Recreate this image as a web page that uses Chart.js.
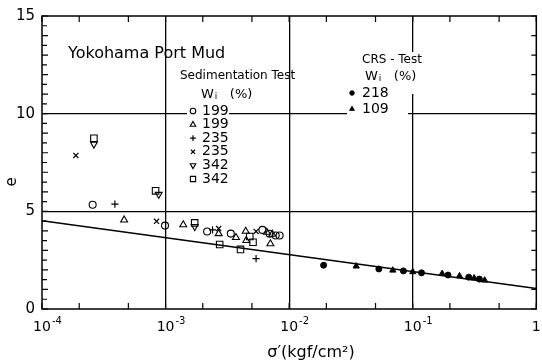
<!DOCTYPE html>
<html>
<head>
<meta charset="utf-8">
<script src="https://cdn.jsdelivr.net/npm/chart.js@4.4.1/dist/chart.umd.min.js"></script>
<style>
  html, body { margin: 0; padding: 0; background: #fff; }
  #wrap { width: 542px; height: 363px; }
</style>
</head>
<body>
<div id="wrap"><canvas id="c" width="542" height="363"></canvas></div>
<script>
// ---- Data: effective stress sigma' (kgf/cm2) and void ratio e ----

// Sedimentation test, wl = 199 %, open circles
const sedCircle199X = [2.57e-4, 9.9e-4, 2.17e-3, 3.37e-3, 6.08e-3, 6.95e-3, 7.78e-3, 8.37e-3];
const sedCircle199E = [5.34, 4.27, 3.97, 3.86, 4.05, 3.85, 3.76, 3.76];

// Sedimentation test, wl = 199 %, open triangles
const sedTri199X = [4.62e-4, 1.39e-3, 2.69e-3, 3.71e-3, 4.45e-3, 4.5e-3, 6.6e-3, 7.05e-3, 7.3e-3];
const sedTri199E = [4.56, 4.31, 3.86, 3.66, 3.98, 3.51, 3.93, 3.34, 3.83];

// Sedimentation test, wl = 235 %, plus signs
const sedPlus235X = [3.89e-4, 2.4e-3, 5.4e-3];
const sedPlus235E = [5.37, 4.05, 2.58];

// Sedimentation test, wl = 235 %, crosses
const sedCross235X = [1.88e-4, 8.45e-4, 2.69e-3, 5.4e-3];
const sedCross235E = [7.86, 4.49, 4.12, 3.97];

// Sedimentation test, wl = 342 %, inverted triangles
const sedInv342X = [2.63e-4, 8.8e-4, 1.72e-3];
const sedInv342E = [8.44, 5.87, 4.22];

// Sedimentation test, wl = 342 %, open squares
const sedSq342X = [2.63e-4, 8.3e-4, 1.72e-3, 2.74e-3, 4.04e-3, 4.8e-3, 5.1e-3];
const sedSq342E = [8.74, 6.05, 4.41, 3.30, 3.05, 3.71, 3.42];

// CRS test, wl = 218 %, filled circles
const crs218X = [0.0190, 0.0532, 0.0841, 0.1178, 0.193, 0.284, 0.346];
const crs218E = [2.24, 2.05, 1.95, 1.85, 1.74, 1.63, 1.53];

// CRS test, wl = 109 %, filled triangles
const crs109X = [0.0349, 0.069, 0.100, 0.173, 0.239, 0.314, 0.382];
const crs109E = [2.19, 1.98, 1.90, 1.81, 1.69, 1.58, 1.47];

// Fitted e - log sigma' line
const fitX = [1e-4, 1];
const fitE = [4.52, 1.05];

// ---- Axes ----
const xTicks = [1e-4, 2e-4, 5e-4, 1e-3, 2e-3, 5e-3, 1e-2, 2e-2, 5e-2, 1e-1, 2e-1, 5e-1, 1];
const xDecades = [1e-4, 1e-3, 1e-2, 1e-1, 1];
const xDecadeExp = ['-4', '-3', '-2', '-1', ''];
const yLabels = [0, 5, 10, 15];
const yGridLines = [5, 10];
const yMinorStep = 0.5;
const yRightStep = 1;

// ---- Text ----
const chartTitle = 'Yokohama Port Mud';
const sedHeader = 'Sedimentation Test';
const crsHeader = 'CRS - Test';
const sedLegendLabels = ['199', '199', '235', '235', '342', '342'];
const crsLegendLabels = ['218', '109'];
const xTitle = 'σ\u2032(kgf/cm²)';
const yTitle = 'e';

const FONT = '"DejaVu Sans", "Liberation Sans", sans-serif';

function pts(xs, ys) { return xs.map((v, i) => ({ x: v, y: ys[i] })); }

const open = { backgroundColor: 'rgba(0,0,0,0)', borderColor: '#000', borderWidth: 1.1 };
const filled = { backgroundColor: '#000', borderColor: '#000', borderWidth: 1 };

const sedStyles = [
  { ...open, pointStyle: 'circle', pointRadius: 3.5 },
  { ...open, pointStyle: 'triangle', pointRadius: 4 },
  { ...open, pointStyle: 'cross', pointRadius: 3.6, borderWidth: 1.2 },
  { ...open, pointStyle: 'crossRot', pointRadius: 3.6, borderWidth: 1.2 },
  { ...open, pointStyle: 'triangle', pointRotation: 180, pointRadius: 4 },
  { ...open, pointStyle: 'rect', pointRadius: 4.6 }
];
const crsStyles = [
  { ...filled, pointStyle: 'circle', pointRadius: 3 },
  { ...filled, pointStyle: 'triangle', pointRadius: 3.6 }
];

const datasets = [
  { data: pts(fitX, fitE), showLine: true, borderColor: '#000', borderWidth: 1.6, pointRadius: 0, fill: false },
  { data: pts(sedCircle199X, sedCircle199E), ...sedStyles[0] },
  { data: pts(sedTri199X, sedTri199E), ...sedStyles[1] },
  { data: pts(sedPlus235X, sedPlus235E), ...sedStyles[2] },
  { data: pts(sedCross235X, sedCross235E), ...sedStyles[3] },
  { data: pts(sedInv342X, sedInv342E), ...sedStyles[4] },
  { data: pts(sedSq342X, sedSq342E), ...sedStyles[5] },
  { data: pts(crs218X, crs218E), ...crsStyles[0] },
  { data: pts(crs109X, crs109E), ...crsStyles[1] }
];

function drawWi(ctx, x, y, size) {
  ctx.textAlign = 'left';
  ctx.font = size + 'px ' + FONT;
  ctx.fillText('W', x, y);
  const w = ctx.measureText('W').width;
  ctx.font = Math.round(size * 0.7) + 'px ' + FONT;
  ctx.fillText('i', x + w + 1, y + 2);
  ctx.font = size + 'px ' + FONT;
  ctx.fillText('(%)', x + w + 16, y);
}

function legendMark(ctx, style, x, y, scale) {
  ctx.save();
  ctx.strokeStyle = style.borderColor;
  ctx.fillStyle = style.backgroundColor;
  ctx.lineWidth = style.borderWidth;
  Chart.helpers.drawPoint(ctx, {
    pointStyle: style.pointStyle,
    rotation: style.pointRotation || 0,
    radius: style.pointRadius * scale,
    borderWidth: style.borderWidth
  }, x, y);
  ctx.restore();
}

const decor = {
  id: 'decor',
  afterDraw(chart) {
    const { ctx, chartArea: a, scales: { x, y } } = chart;
    ctx.save();

    // frame
    ctx.strokeStyle = '#000';
    ctx.lineWidth = 1.5;
    ctx.strokeRect(a.left, a.top, a.right - a.left, a.bottom - a.top);

    // inward tick marks
    ctx.lineWidth = 1.2;
    ctx.beginPath();
    xTicks.forEach(v => {
      const px = x.getPixelForValue(v);
      ctx.moveTo(px, a.bottom); ctx.lineTo(px, a.bottom - 6);
      ctx.moveTo(px, a.top); ctx.lineTo(px, a.top + 6);
    });
    for (let v = y.min; v <= y.max; v += yMinorStep) {
      const py = y.getPixelForValue(v);
      ctx.moveTo(a.left, py); ctx.lineTo(a.left + (v % 1 === 0 ? 6 : 5), py);
    }
    for (let v = y.min; v <= y.max; v += yRightStep) {
      const py = y.getPixelForValue(v);
      ctx.moveTo(a.right, py); ctx.lineTo(a.right - 5, py);
    }
    ctx.stroke();

    ctx.fillStyle = '#000';
    ctx.textBaseline = 'middle';

    // x tick labels (10 with superscript exponent)
    xDecades.forEach((v, i) => {
      const px = x.getPixelForValue(v);
      if (xDecadeExp[i]) {
        ctx.font = '14px ' + FONT;
        ctx.textAlign = 'center';
        ctx.fillText('10', px, a.bottom + 18);
        const w = ctx.measureText('10').width;
        ctx.font = '10px ' + FONT;
        ctx.textAlign = 'left';
        ctx.fillText(xDecadeExp[i], px + w / 2 + 1, a.bottom + 12);
      } else {
        ctx.font = '14px ' + FONT;
        ctx.textAlign = 'center';
        ctx.fillText('1', px, a.bottom + 18);
      }
    });

    // axis titles
    ctx.font = '16px ' + FONT;
    ctx.textAlign = 'center';
    ctx.fillText(xTitle, 311, 353);
    ctx.save();
    ctx.font = '15px ' + FONT;
    ctx.translate(12, 182);
    ctx.rotate(-Math.PI / 2);
    ctx.fillText(yTitle, 0, 0);
    ctx.restore();

    // title
    ctx.font = '16px ' + FONT;
    ctx.textAlign = 'left';
    ctx.fillText(chartTitle, 68, 54);

    // sedimentation legend
    ctx.font = '12px ' + FONT;
    ctx.textAlign = 'left';
    ctx.fillText(sedHeader, 180, 76);
    drawWi(ctx, 201, 95, 13);
    const rowY0 = 111, rowDy = 13.6;
    sedLegendLabels.forEach((lab, i) => {
      const ry = rowY0 + i * rowDy;
      ctx.fillStyle = '#fff';
      ctx.fillRect(187, ry - 6, 42, 12);
      ctx.fillStyle = '#000';
      legendMark(ctx, sedStyles[i], 193, ry, 0.8);
      ctx.font = '14px ' + FONT;
      ctx.textAlign = 'left';
      ctx.fillText(lab, 202, ry);
    });

    // CRS legend
    ctx.fillStyle = '#fff';
    ctx.fillRect(398, 52, 30, 42);
    ctx.fillRect(347, 104, 61, 12);
    ctx.fillStyle = '#000';
    ctx.font = '12px ' + FONT;
    ctx.textAlign = 'left';
    ctx.fillText(crsHeader, 362, 60);
    drawWi(ctx, 365, 77, 13);
    crsLegendLabels.forEach((lab, i) => {
      const ry = 93 + i * 16;
      legendMark(ctx, crsStyles[i], 352, ry, 0.75);
      ctx.font = '14px ' + FONT;
      ctx.textAlign = 'left';
      ctx.fillText(lab, 362, ry);
    });

    ctx.restore();
  }
};

new Chart(document.getElementById('c'), {
  type: 'scatter',
  data: { datasets },
  options: {
    responsive: false,
    animation: false,
    devicePixelRatio: 1,
    layout: { padding: { top: 14, right: 5, left: 0, bottom: 0 } },
    plugins: { legend: { display: false }, tooltip: { enabled: false } },
    scales: {
      x: {
        type: 'logarithmic',
        min: 1e-4,
        max: 1,
        afterBuildTicks(s) { s.ticks = xDecades.map(v => ({ value: v })); },
        afterFit(s) { s.height = 54; },
        ticks: { display: false },
        grid: {
          drawTicks: false,
          lineWidth: 1.3,
          color: c => (c.tick && c.tick.value > 1e-4 && c.tick.value < 1) ? '#000' : 'rgba(0,0,0,0)'
        },
        border: { display: false }
      },
      y: {
        min: 0,
        max: 15,
        afterBuildTicks(s) { s.ticks = yLabels.map(v => ({ value: v })); },
        afterFit(s) { s.width = 42; },
        ticks: {
          padding: 7,
          color: '#000',
          font: { family: FONT, size: 15 },
          callback: v => String(v)
        },
        grid: {
          drawTicks: false,
          lineWidth: 1.3,
          color: c => (c.tick && yGridLines.includes(c.tick.value)) ? '#000' : 'rgba(0,0,0,0)'
        },
        border: { display: false }
      }
    }
  },
  plugins: [decor]
});
</script>
</body>
</html>
